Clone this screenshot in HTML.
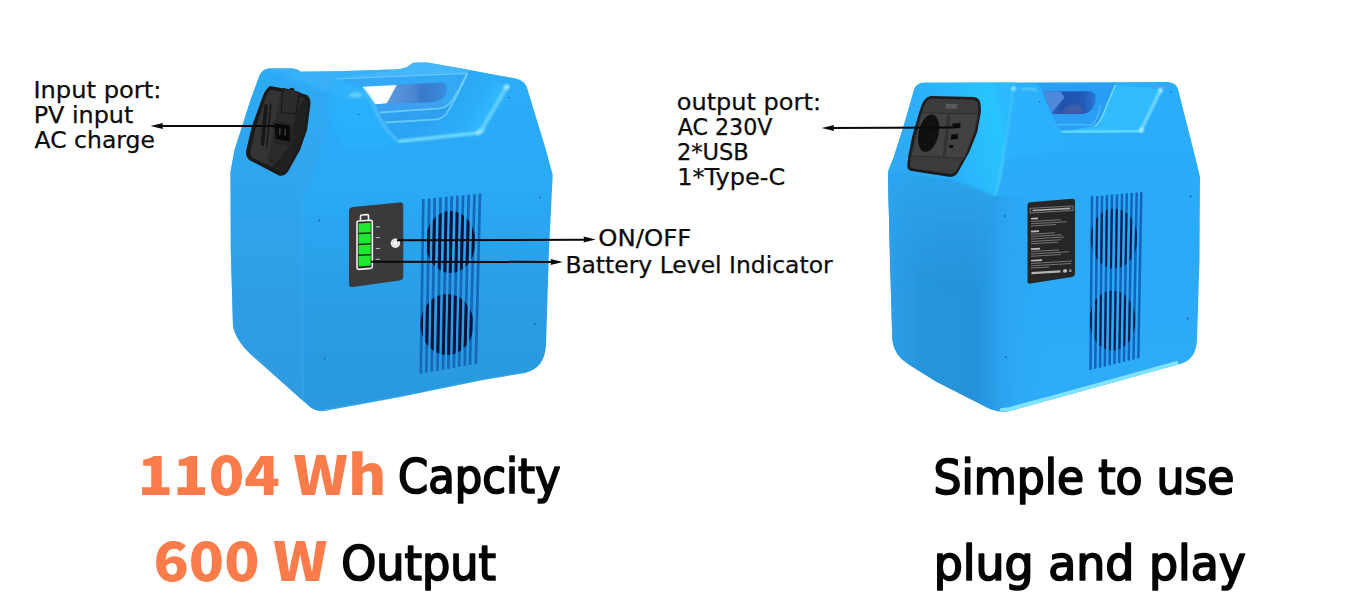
<!DOCTYPE html>
<html lang="en">
<head>
<meta charset="utf-8">
<title>Portable Power Station</title>
<style>
html,body{margin:0;padding:0;background:#fff;}
body{width:1357px;height:600px;overflow:hidden;}
svg{display:block;}
.lbl{font-family:"DejaVu Sans","Liberation Sans",sans-serif;font-size:23.5px;fill:#0a0a0a;stroke:#0a0a0a;stroke-width:0.25px;}
.big{font-family:"DejaVu Sans Condensed","DejaVu Sans","Liberation Sans",sans-serif;font-size:48px;fill:#050505;stroke:#050505;stroke-width:1.7px;stroke-linejoin:round;}
.org{font-family:"Noto Sans CJK SC","Liberation Sans",sans-serif;font-size:54.3px;font-weight:900;fill:#fa7c4b;}
</style>
</head>
<body>
<svg width="1357" height="600" viewBox="0 0 1357 600">
<defs>
  <linearGradient id="gFrontL" gradientUnits="userSpaceOnUse" x1="0" y1="68" x2="0" y2="412">
    <stop offset="0" stop-color="#2cadf9"/>
    <stop offset="0.35" stop-color="#2aa9f5"/>
    <stop offset="0.7" stop-color="#2a9de5"/>
    <stop offset="1" stop-color="#2998de"/>
  </linearGradient>
  <linearGradient id="gSideL" gradientUnits="userSpaceOnUse" x1="0" y1="68" x2="0" y2="412">
    <stop offset="0" stop-color="#2fa9f3"/>
    <stop offset="0.4" stop-color="#33a3ea"/>
    <stop offset="1" stop-color="#309be0"/>
  </linearGradient>
  <linearGradient id="gFrontR" gradientUnits="userSpaceOnUse" x1="0" y1="82" x2="0" y2="412">
    <stop offset="0" stop-color="#2aaefb"/>
    <stop offset="0.5" stop-color="#2ba9f6"/>
    <stop offset="1" stop-color="#2eacf8"/>
  </linearGradient>
  <linearGradient id="gSideR" gradientUnits="userSpaceOnUse" x1="888" y1="0" x2="1000" y2="0">
    <stop offset="0" stop-color="#2e9ee8"/>
    <stop offset="0.3" stop-color="#2794dc"/>
    <stop offset="0.75" stop-color="#2592da"/>
    <stop offset="1" stop-color="#2a9ee9"/>
  </linearGradient>
  <linearGradient id="gSideRtop" gradientUnits="userSpaceOnUse" x1="0" y1="178" x2="0" y2="290">
    <stop offset="0" stop-color="#2ca6f0" stop-opacity="0.85"/>
    <stop offset="0.5" stop-color="#2ca2ec" stop-opacity="0.45"/>
    <stop offset="1" stop-color="#2a9ee8" stop-opacity="0"/>
  </linearGradient>
  <linearGradient id="gEdgeR" gradientUnits="userSpaceOnUse" x1="994" y1="0" x2="1045" y2="0">
    <stop offset="0" stop-color="#2a9ce8" stop-opacity="0.75"/>
    <stop offset="0.4" stop-color="#2aa2ee" stop-opacity="0.4"/>
    <stop offset="1" stop-color="#2aa8f4" stop-opacity="0"/>
  </linearGradient>
  <linearGradient id="gSlopeR" gradientUnits="userSpaceOnUse" x1="895" y1="150" x2="1008" y2="120">
    <stop offset="0" stop-color="#2ea9f4"/>
    <stop offset="0.5" stop-color="#2cb4fb"/>
    <stop offset="0.9" stop-color="#28c4ff"/>
    <stop offset="1" stop-color="#2cbafd"/>
  </linearGradient>
  <linearGradient id="gSlopeL" gradientUnits="userSpaceOnUse" x1="440" y1="95" x2="490" y2="125">
    <stop offset="0" stop-color="#2ba4f3"/>
    <stop offset="0.6" stop-color="#2cadf8"/>
    <stop offset="1" stop-color="#33bcfd"/>
  </linearGradient>
  <linearGradient id="gHoleL" gradientUnits="userSpaceOnUse" x1="390" y1="0" x2="447" y2="0">
    <stop offset="0" stop-color="#5a96dc"/>
    <stop offset="0.42" stop-color="#4a88d4"/>
    <stop offset="0.55" stop-color="#3a78ca"/>
    <stop offset="1" stop-color="#3a8cde"/>
  </linearGradient>
  <linearGradient id="gHoleR" gradientUnits="userSpaceOnUse" x1="1045" y1="0" x2="1096" y2="0">
    <stop offset="0" stop-color="#3a70c6"/>
    <stop offset="0.35" stop-color="#2052ac"/>
    <stop offset="0.75" stop-color="#225ab8"/>
    <stop offset="1" stop-color="#2a7cd8"/>
  </linearGradient>
  <filter id="b05" x="-20%" y="-20%" width="140%" height="140%"><feGaussianBlur stdDeviation="0.5"/></filter>
  <filter id="b1" x="-20%" y="-20%" width="140%" height="140%"><feGaussianBlur stdDeviation="1"/></filter>
  <filter id="b2" x="-20%" y="-20%" width="140%" height="140%"><feGaussianBlur stdDeviation="2"/></filter>
  <filter id="b4" x="-30%" y="-30%" width="160%" height="160%"><feGaussianBlur stdDeviation="4"/></filter>
  <clipPath id="cL"><path d="M258.5,78 Q261,69.5 268.5,68.5 L293,68.6 Q298,69.5 301,71.8 L330,71.5 L399,69.3 L407,67.3 L413,62.8 L427,62.5 L470,70 L516,78.5 Q524,80.5 526.5,86 L546,150 L552.7,175 L549,250 L546,345 Q545,368 525,373 L483,380 L400,397 L324,411 Q314.5,412 308,405.3 L256.6,359.5 Q236,342.5 233,326 L230.8,250 L230.5,172 L234.5,150 L250.5,100 Z"/></clipPath>
  <clipPath id="cR"><path d="M914,90 Q916,83 924,82.8 L1168,82 Q1176,82.5 1178,89 L1196,160 L1200,177 L1199.5,260 L1197,340 Q1196,360 1180,364 L1133,377 L1050,400 L1010,411 Q1001,413 990,409 L936,381.5 L908,364 Q894,355 892.3,340 L890,260 L888,175 Q888,171 889.7,167 L893.5,158 L904,124.7 Z"/></clipPath>
  <clipPath id="fanL"><ellipse cx="450.5" cy="242" rx="25" ry="31"/><ellipse cx="447" cy="324.5" rx="26.5" ry="30.5"/></clipPath>
  <clipPath id="fanR"><ellipse cx="1114" cy="238.5" rx="23.5" ry="30"/><ellipse cx="1112.5" cy="320.5" rx="23" ry="30"/></clipPath>
</defs>
<rect width="1357" height="600" fill="#ffffff"/>

<!-- ================= LEFT UNIT ================= -->
<g id="unitL">
  <path d="M258.5,78 Q261,69.5 268.5,68.5 L293,68.6 Q298,69.5 301,71.8 L330,71.5 L399,69.3 L407,67.3 L413,62.8 L427,62.5 L470,70 L516,78.5 Q524,80.5 526.5,86 L546,150 L552.7,175 L549,250 L546,345 Q545,368 525,373 L483,380 L400,397 L324,411 Q314.5,412 308,405.3 L256.6,359.5 Q236,342.5 233,326 L230.8,250 L230.5,172 L234.5,150 L250.5,100 Z" fill="url(#gFrontL)"/>
  <g clip-path="url(#cL)">
    <!-- left side face -->
    <path d="M225,165 L255,60 L345,70 L330,120 L312,180 L302,197 L303,420 L225,420 Z" fill="url(#gSideL)" opacity="0.7" filter="url(#b1)"/>
    <path d="M302,198 L303,402" stroke="#4bb4f4" stroke-width="1.2" opacity="0.4" filter="url(#b05)" fill="none"/>
    <!-- left shoulder top light -->
    <path d="M262,66 L400,66 L400,70 L337,78.5 L363,88 L350,100 L300,82 Z" fill="#3fb6fb" opacity="0.6" filter="url(#b2)"/>
    <!-- handle bar top face -->
    <path d="M336.7,78.6 L400,69 L413,62 L428,62 L470,69.5 L467,73.4 Z" fill="#46b6fa"/>
    <!-- slope between recess and right shoulder -->
    <path d="M467.5,73.3 L470,70 L507,86.5 L480.5,131.5 L398,141 Q390,134 385,122.5 L436.7,119 Q442,119 446.7,113.3 Z" fill="url(#gSlopeL)"/>
    <!-- recess -->
    <path d="M336.7,79 L467,73.3 Q457,97 446.7,113.3 Q442,119 436.7,119.3 L385,122.5 Q379,119 375,110 L362.5,87 Z" fill="#33a8f4"/>
    <path d="M467,73.6 Q458,92 452,100.5 Q447,107.5 440,108.3 L380,112.5 L385,122.5 L436.7,119.3 Q442,119 446.7,113.3 Q457,97 467,73.6 Z" fill="#2f9ff0"/>
    <!-- hole -->
    <path d="M396.7,85 L440,82.6 Q447.5,83 446.7,90 Q446,97 441,99.5 Q435,102.3 426.7,102.6 L386.7,103.4 Z" fill="url(#gHoleL)"/>
    <path d="M362.5,86.7 L396.7,85 L386.7,103.4 L375,104.2 Z" fill="#ffffff"/>
    <path d="M375,104.4 L386.7,103.6 L426.7,102.8 Q436,102.5 442,99.5 L444,104 Q442,107.5 438,108 L380,112.3 Z" fill="#3c9ff0"/>
    <!-- rim lines -->
    <path d="M337,79 L467,73.4" stroke="#7acfff" stroke-width="1.2" fill="none" filter="url(#b05)" opacity="0.8"/>
    <path d="M467,73.6 Q458,92 452,100.5 Q447,107.5 440,108.3 L380,112.5" stroke="#6fd0ff" stroke-width="1.8" fill="none" filter="url(#b05)" opacity="0.85"/>
    <path d="M467.5,73.4 Q457,97 446.7,113.3 Q442,119 436.7,119.3 L385,122.5" stroke="#6fd0ff" stroke-width="1.8" fill="none" filter="url(#b05)" opacity="0.85"/>
    <path d="M335,80 L362,87 Q372,100 376,111 Q383,128 397,141 L380,150 L345,150 L325,110 Z" fill="#27b6ff" opacity="0.45" filter="url(#b2)"/>
    <!-- left shoulder front edge shading -->
    <path d="M363,90 Q372,100 376,111 Q383,128 397,140" stroke="#58c4ff" stroke-width="3" fill="none" opacity="0.8" filter="url(#b1)"/>
    <ellipse cx="356" cy="95" rx="7" ry="3" fill="#8fe2ff" opacity="0.55" filter="url(#b1)"/>
    <!-- floor highlight -->
    <path d="M399,141.3 L478,132.8" stroke="#74dcff" stroke-width="3.2" stroke-linecap="round" filter="url(#b1)" fill="none"/>
    <ellipse cx="480" cy="131.5" rx="4.5" ry="2.5" transform="rotate(-35 480 131.5)" fill="#c5f4ff" opacity="0.7" filter="url(#b1)"/>
    <!-- right shoulder ridge -->
    <path d="M507,86.5 L481,131" stroke="#6ed6ff" stroke-width="4" stroke-linecap="round" filter="url(#b1)" fill="none" opacity="0.85"/>
    <ellipse cx="506.5" cy="87" rx="3" ry="2.5" fill="#c5f4ff" opacity="0.65" filter="url(#b1)"/>
    <!-- port panel -->
    <path d="M270,86 L289,89.5 L307,95 Q311,98 310.3,105 L307,130 L300,150 L290,168 Q286,177 279,175.5 L250,160.5 Q245,157 246.3,150 L252,126 L260,104 Q265,88 270,86 Z" fill="#1b1b1b"/>
    <path d="M271,90 L288,93 L304.5,98 Q307.5,100 307,105 L304,129 L297.5,148 L288,166 Q285,172 280,171 L253,158 Q249.5,156 250.5,151 L256,127 L263,106 Q267,91 271,90 Z" fill="#2b2b2b"/>
    <path d="M250.5,151 L256,127 L263,106 Q267,91 271,90 L281,92 L276,118 L270,150 L266,164 L253,158 Q249.5,156 250.5,151 Z" fill="#343434"/>
    <path d="M296,113 L304.5,98 Q307.5,100 307,105 L304,129 L297.5,148 L288,166 Q285,172 280,171 L272,167 L290,146 Z" fill="#202020"/>
    <path d="M283,88.5 L290,90 L290.5,88.2 L294,89 L293.8,91 L299.5,92.6 L296,113.5 L281,113 Z" fill="#2c2c2c" stroke="#151515" stroke-width="1"/>
    <path d="M264.5,104 L268,104.8 L264,146 L260.5,144.5 Z" fill="#171717"/>
    <path d="M270,104 L271.6,104.4 L267.5,148 L266,147.4 Z" fill="#171717"/>
    <path d="M272.5,121 L292,123.5 L295,133.5 L291,147 L274.5,143 Z" fill="#242424"/>
    <path d="M274.5,123.5 L289.5,125.5 L290,141.5 L276,139 Z" fill="#080808"/>
    <path d="M279,128 L280.6,128.2 L280.6,135 L279,134.8 Z M284.4,128.8 L286,129 L286,135.8 L284.4,135.6 Z" fill="#3a3a3a"/>
    <circle cx="271.5" cy="160.5" r="0.8" fill="#111"/>
    <!-- display panel -->
    <path d="M353,207.1 L399.5,202.4 Q403.3,202 403.3,205.8 L403.3,276.5 Q403.3,279.9 399.5,280.5 L353,287 Q349,287.5 349,283.7 L349,211 Q349,207.5 353,207.1 Z" fill="#3a3a3c"/>
    <!-- battery -->
    <path d="M360.5,220.8 L360.5,216 Q360.5,215 361.5,215 L367.5,214.6 Q368.5,214.6 368.5,215.6 L368.5,220.3" fill="none" stroke="#f2f2f2" stroke-width="1.6"/>
    <path d="M357,222.6 Q357,221 358.6,221 L370.6,220.2 Q372.3,220.2 372.3,221.8 L372.3,266.6 Q372.3,268.2 370.6,268.4 L358.6,269.4 Q357,269.4 357,267.8 Z" fill="#2a2a2c" stroke="#f2f2f2" stroke-width="1.6"/>
    <path d="M358.6,223.6 L370.7,222.8 L370.7,232.2 L358.6,232.8 Z" fill="#1fe82e"/>
    <path d="M358.6,234.3 L370.7,233.7 L370.7,243.1 L358.6,243.7 Z" fill="#1fe82e"/>
    <path d="M358.6,245.2 L370.7,244.6 L370.7,254.0 L358.6,254.6 Z" fill="#1fe82e"/>
    <path d="M358.6,256.1 L370.7,255.5 L370.7,265.6 L358.6,266.6 Z" fill="#1fe82e"/>
    <g stroke="#cfcfcf" stroke-width="0.9"><path d="M375.8,227 L380,226.7"/><path d="M375.8,237.8 L380,237.5"/><path d="M375.8,248.6 L380,248.3"/><path d="M375.8,259.4 L380,259.1"/></g>
    <circle cx="395.4" cy="243.3" r="4.7" fill="#f0f0f0"/>
    <circle cx="395.4" cy="243.3" r="2.7" fill="#fafafa" stroke="#c4c4c4" stroke-width="0.8"/>
    <!-- vents -->
    <path d="M423.3,199.0 L420.8,373.7 M429.2,198.5 L426.3,372.7 M434.7,197.9 L431.7,371.8 M440.5,197.4 L437.5,370.8 M446.3,196.9 L443.0,369.8 M451.7,196.3 L448.3,368.9 M457.5,195.8 L453.8,367.9 M463.0,195.3 L459.2,366.9 M468.7,194.8 L464.7,365.9 M474.5,194.2 L470.0,365.0 M480.0,193.7 L475.8,364.0" stroke="#1767b8" stroke-width="2.7" fill="none"/>
    <g clip-path="url(#fanL)"><path d="M423.3,199.0 L420.8,373.7 M429.2,198.5 L426.3,372.7 M434.7,197.9 L431.7,371.8 M440.5,197.4 L437.5,370.8 M446.3,196.9 L443.0,369.8 M451.7,196.3 L448.3,368.9 M457.5,195.8 L453.8,367.9 M463.0,195.3 L459.2,366.9 M468.7,194.8 L464.7,365.9 M474.5,194.2 L470.0,365.0 M480.0,193.7 L475.8,364.0" stroke="#081238" stroke-width="3" fill="none"/></g>
    <path d="M318,412 L400,397.8 L483,380.8 L525,374" stroke="#5cc4ff" stroke-width="2.2" fill="none" filter="url(#b1)" opacity="0.6"/>
    <!-- screw dots -->
    <g fill="#1a62a8"><circle cx="319.5" cy="220.5" r="0.9"/><circle cx="324.5" cy="358.5" r="0.9"/><circle cx="540" cy="197.5" r="0.9"/><circle cx="534.5" cy="324" r="0.9"/><circle cx="358.5" cy="114.5" r="0.8"/><circle cx="509" cy="97.5" r="0.8"/></g>
  </g>
</g>

<!-- ================= RIGHT UNIT ================= -->
<g id="unitR">
  <path d="M914,90 Q916,83 924,82.8 L1168,82 Q1176,82.5 1178,89 L1196,160 L1200,177 L1199.5,260 L1197,340 Q1196,360 1180,364 L1133,377 L1050,400 L1010,411 Q1001,413 990,409 L936,381.5 L908,364 Q894,355 892.3,340 L890,260 L888,175 Q888,171 889.7,167 L893.5,158 L904,124.7 Z" fill="url(#gFrontR)"/>
  <g clip-path="url(#cR)">
    <!-- sloped upper-left face -->
    <path d="M880,172 L915,78 L1016,78 L1012,110 L1005.5,145 L999.7,180 L994,197 L950,181 L887,173 Z" fill="url(#gSlopeR)" filter="url(#b1)"/>
    <path d="M1013.7,88 Q1010,120 1005.5,145 L999.7,180 L994.5,196" stroke="#5fd6ff" stroke-width="2" fill="none" opacity="0.7" filter="url(#b1)"/>
    <!-- left side face -->
    <path d="M870,171.5 L887.5,173.3 L950,180.5 L991,195.5 L999,430 L870,430 Z" fill="url(#gSideR)" filter="url(#b2)"/>
    <path d="M870,171.5 L887.5,173.3 L950,180.5 L991,195.5 L995,300 L870,300 Z" fill="url(#gSideRtop)" filter="url(#b2)"/>
    <path d="M990,196 L1050,196 L1050,420 L998,420 Z" fill="url(#gEdgeR)"/>
    <!-- left hump -->
    <path d="M1013,90 Q1018,84 1028,84.5 L1036.3,83.7 Q1040,86 1041.7,90.2 L1046,102 L1051.4,113 L1055.8,122.7 Q1059,129 1063.3,131.3 L1064,150 L1004,160 Z" fill="#2db4fc" opacity="0.6" filter="url(#b1)"/>
    <ellipse cx="1013.5" cy="88.5" rx="2.5" ry="2" fill="#c8f6ff" opacity="0.75" filter="url(#b1)"/>
    <path d="M1021,90 Q1030,86.5 1037,91" stroke="#8fe4ff" stroke-width="2" fill="none" opacity="0.6" filter="url(#b1)"/>
    <!-- handle bar + recess -->
    <path d="M1036.3,83.2 L1116,83.2 Q1110,98 1106.7,105.3 Q1103,116 1100,120.5 Q1097,125 1094.8,126 L1063.3,131.3 Q1059,129 1055.8,122.7 L1051.4,113 L1046,102 L1041.7,90.2 Q1040,86 1036.3,83.2 Z" fill="#2a9ef3"/>
    <!-- slope right of recess -->
    <path d="M1115.3,84.8 L1160.8,89.5 L1140.8,130.8 L1063.3,131.8 L1094.8,126 Q1097,125 1100,120.5 Q1103,116 1106.7,105.3 Q1110,98 1115.3,84.8 Z" fill="#30bcfe" filter="url(#b05)"/>
    <!-- hole -->
    <path d="M1043.3,91.5 L1090,91.3 Q1096,92 1095.8,98 Q1095.5,108 1088,112.5 Q1086,113.8 1083,114 L1052.5,114 Z" fill="url(#gHoleR)"/>
    <path d="M1043.6,91.8 L1061,91.8 L1064.5,97.5 L1052,112.6 Z" fill="#5088d8" filter="url(#b05)"/>
    <path d="M1062,112 Q1068,102 1080,105 L1084,113.5 L1058,113.8 Z" fill="#6a6a90" opacity="0.4" filter="url(#b1)"/>
    <!-- rim + ridge lines -->
    <path d="M1057,124.7 L1092,124.8 Q1098,120 1100,105.5" stroke="#55c8ff" stroke-width="1.2" fill="none" opacity="0.8" filter="url(#b05)"/>
    <path d="M1115.3,84.8 Q1110,98 1106.7,105.3 Q1103,116 1100,120.5 Q1097,125 1094.8,126" stroke="#7fdcff" stroke-width="1.3" fill="none" filter="url(#b05)"/>
    <path d="M1063,132.3 L1140,130.8" stroke="#66dcff" stroke-width="3.4" stroke-linecap="round" filter="url(#b1)" fill="none"/>
    <path d="M1160.8,90 L1141,130.5" stroke="#86e2ff" stroke-width="2.6" stroke-linecap="round" filter="url(#b1)" fill="none"/>
    <ellipse cx="1160.5" cy="90" rx="2" ry="2.5" fill="#d5f8ff" opacity="0.7" filter="url(#b1)"/>
    <ellipse cx="1141.5" cy="130" rx="2.5" ry="2.5" fill="#d5f8ff" opacity="0.7" filter="url(#b1)"/>
    <!-- port panel -->
    <g transform="translate(0.3,0.9)">
    <path d="M930,95 L974,96 Q979,97 980,102 Q981,108 980.6,111 L977,131 L969,151 L959,169 Q956,176 950,176 L911,170 Q906.5,169 907,164 L908,155 L912,135 L919,111 Q923,96 930,95 Z" fill="#1c1c1c"/>
    <path d="M931,97.5 L973,98.5 Q977.5,99.5 978,104 Q978.5,108 978,111 L974.5,130.5 L967,150 L957.5,167 Q955,173 950,173 L913,167.6 Q909.2,167 909.6,163.5 L910.6,155 L914.5,135.5 L921.2,112 Q925,98 931,97.5 Z" fill="#3b3b3b"/>
    <path d="M921,112 L948,112.5 L947.5,114 L943,156.5 L911,155 Z M949.5,112.6 L978,113 L974.5,130.5 L967,150 L964,157.5 L945,156.6 Z" fill="#424242" stroke="#2a2a2a" stroke-width="0.8"/>
    <ellipse cx="928.3" cy="132.3" rx="10" ry="19" transform="rotate(13 928.3 132.3)" fill="#101010"/>
    <path d="M952.2,122.6 L960.2,122 L960,127 L952,127.6 Z" fill="#0a0a0a"/>
    <path d="M950.8,133.6 L957.6,133 L957.4,138 L950.6,138.6 Z" fill="#0a0a0a"/>
    <path d="M948.7,144.2 L953.2,144 L952.4,147 L949.6,147.1 Z" fill="#0a0a0a"/>
    <rect x="945.5" y="103" width="11.5" height="4.6" fill="#5a5a5a"/>
    </g>
    <!-- label panel -->
    <path d="M1030.5,202.2 L1072,198.8 Q1075,198.5 1075,201.5 L1075,273.6 Q1075,276.6 1072,277 L1030.5,283.6 Q1027.5,284 1027.5,281 L1027.5,205.5 Q1027.5,202.5 1030.5,202.2 Z" fill="#262626"/>
    <g fill="#e4e4e4" transform="translate(1029.5,208.4) skewY(-3.3)">
      <rect x="0.6" y="0" width="43" height="4.6" fill="none" stroke="#cfcfcf" stroke-width="0.6" opacity="0.8"/>
      <rect x="3" y="1.5" width="38" height="1.6" opacity="0.7"/>
      <rect x="1.5" y="9.6" width="7.0" height="1.7" opacity="0.8"/>
      <rect x="1.5" y="12.6" width="30.0" height="1.0" opacity="0.42"/>
      <rect x="1.5" y="14.9" width="36.0" height="1.0" opacity="0.42"/>
      <rect x="1.5" y="17.1" width="25.0" height="1.0" opacity="0.42"/>
      <rect x="1.5" y="22.4" width="8.0" height="1.7" opacity="0.8"/>
      <rect x="1.5" y="25.4" width="24.0" height="1.0" opacity="0.42"/>
      <rect x="1.5" y="27.8" width="31.0" height="1.0" opacity="0.42"/>
      <rect x="1.5" y="30.2" width="33.0" height="1.0" opacity="0.42"/>
      <rect x="1.5" y="32.6" width="30.0" height="1.0" opacity="0.42"/>
      <rect x="1.5" y="35.0" width="27.0" height="1.0" opacity="0.42"/>
      <rect x="1.5" y="40.0" width="9.0" height="1.7" opacity="0.8"/>
      <rect x="1.5" y="42.8" width="28.0" height="1.0" opacity="0.42"/>
      <rect x="1.5" y="45.2" width="38.0" height="1.0" opacity="0.42"/>
      <rect x="1.5" y="47.5" width="30.0" height="1.0" opacity="0.42"/>
      <rect x="1.5" y="51.6" width="11.0" height="1.7" opacity="0.8"/>
      <rect x="1.5" y="54.6" width="41.0" height="1.0" opacity="0.42"/>
      <rect x="1.5" y="57.0" width="40.0" height="1.0" opacity="0.42"/>
      <rect x="1.5" y="59.3" width="18.0" height="1.0" opacity="0.42"/>
      <rect x="2" y="63.6" width="29" height="2.3" opacity="0.75"/>
      <rect x="33.5" y="62.9" width="4" height="3.4" rx="1.5" opacity="0.8"/>
      <rect x="39.5" y="63.4" width="2.5" height="2.6" opacity="0.55"/>
    </g>
    <!-- vents -->
    <path d="M1092.0,196.3 L1090.5,370.0 M1097.2,195.9 L1095.3,368.8 M1102.0,195.4 L1100.1,367.7 M1107.0,195.0 L1104.8,366.5 M1112.0,194.6 L1109.6,365.3 M1117.0,194.2 L1114.4,364.1 M1122.0,193.7 L1119.2,363.0 M1126.8,193.3 L1124.0,361.8 M1131.7,192.9 L1128.7,360.6 M1136.7,192.4 L1133.5,359.5 M1141.3,192.0 L1138.3,358.3" stroke="#1462ba" stroke-width="2.5" fill="none"/>
    <g clip-path="url(#fanR)"><path d="M1092.0,196.3 L1090.5,370.0 M1097.2,195.9 L1095.3,368.8 M1102.0,195.4 L1100.1,367.7 M1107.0,195.0 L1104.8,366.5 M1112.0,194.6 L1109.6,365.3 M1117.0,194.2 L1114.4,364.1 M1122.0,193.7 L1119.2,363.0 M1126.8,193.3 L1124.0,361.8 M1131.7,192.9 L1128.7,360.6 M1136.7,192.4 L1133.5,359.5 M1141.3,192.0 L1138.3,358.3" stroke="#0a1a44" stroke-width="1.9" fill="none"/></g>
    <path d="M1000,410.5 L1010,409 L1050,398.2 L1133,375.3 L1178,362.8" stroke="#86e6ff" stroke-width="4.2" fill="none" filter="url(#b05)" opacity="0.95"/>
    <g fill="#1a62a8"><circle cx="1005" cy="216" r="0.9"/><circle cx="1006" cy="357" r="0.9"/><circle cx="1190.5" cy="196.5" r="0.9"/><circle cx="1187.5" cy="318.5" r="0.9"/><circle cx="1039.5" cy="102" r="0.8"/><circle cx="1170.5" cy="92" r="0.8"/></g>
  </g>
</g>

<!-- ================= ARROWS ================= -->
<g stroke="#0a0a0a" stroke-width="2" fill="none">
  <path d="M160,126 L285,126"/>
  <path d="M397,240.3 L588,239.7"/>
  <path d="M371,261.8 L555,261.9"/>
  <path d="M830,128 L952.5,127.6"/>
</g>
<g fill="#0a0a0a">
  <path d="M150.5,126 L163,123.1 L162.2,126 L163,128.9 Z"/>
  <path d="M595.8,239.6 L583.5,236.6 L584.3,239.6 L583.5,242.6 Z"/>
  <path d="M562.8,261.9 L550.5,258.9 L551.3,261.9 L550.5,264.9 Z"/>
  <path d="M821.8,128 L834.2,125 L833.4,128 L834.2,131 Z"/>
</g>

<!-- ================= TEXT ================= -->
<g class="lbl">
  <text x="33.4" y="97.5" textLength="128.0" lengthAdjust="spacingAndGlyphs">Input port:</text>
  <text x="33.7" y="122.5" textLength="99.6" lengthAdjust="spacingAndGlyphs">PV input</text>
  <text x="34.6" y="147.5" textLength="120.3" lengthAdjust="spacingAndGlyphs">AC charge</text>
  <text x="598.2" y="246.3" textLength="93.1" lengthAdjust="spacingAndGlyphs">ON/OFF</text>
  <text x="565.4" y="272.8" textLength="267.3" lengthAdjust="spacingAndGlyphs">Battery Level Indicator</text>
  <text x="676.7" y="110" textLength="144.3" lengthAdjust="spacingAndGlyphs">output port:</text>
  <text x="677.7" y="135.4" textLength="94.8" lengthAdjust="spacingAndGlyphs">AC 230V</text>
  <text x="676.9" y="160.4" textLength="71.9" lengthAdjust="spacingAndGlyphs">2*USB</text>
  <text x="677.2" y="185.3" textLength="108.0" lengthAdjust="spacingAndGlyphs">1*Type-C</text>
</g>
<text class="org" x="137.5" y="494.9" textLength="248.9" lengthAdjust="spacingAndGlyphs">1104 Wh</text>
<text class="big" x="397.9" y="493.1" textLength="162.7" lengthAdjust="spacingAndGlyphs">Capcity</text>
<text class="org" x="153.4" y="580.5" textLength="173.9" lengthAdjust="spacingAndGlyphs">600 W</text>
<text class="big" x="341.3" y="580.3" textLength="154.7" lengthAdjust="spacingAndGlyphs">Output</text>
<text class="big" x="933.5" y="493.8" textLength="301.0" lengthAdjust="spacingAndGlyphs">Simple to use</text>
<text class="big" x="933.7" y="580.3" textLength="312.2" lengthAdjust="spacingAndGlyphs">plug and play</text>
</svg>
</body>
</html>
